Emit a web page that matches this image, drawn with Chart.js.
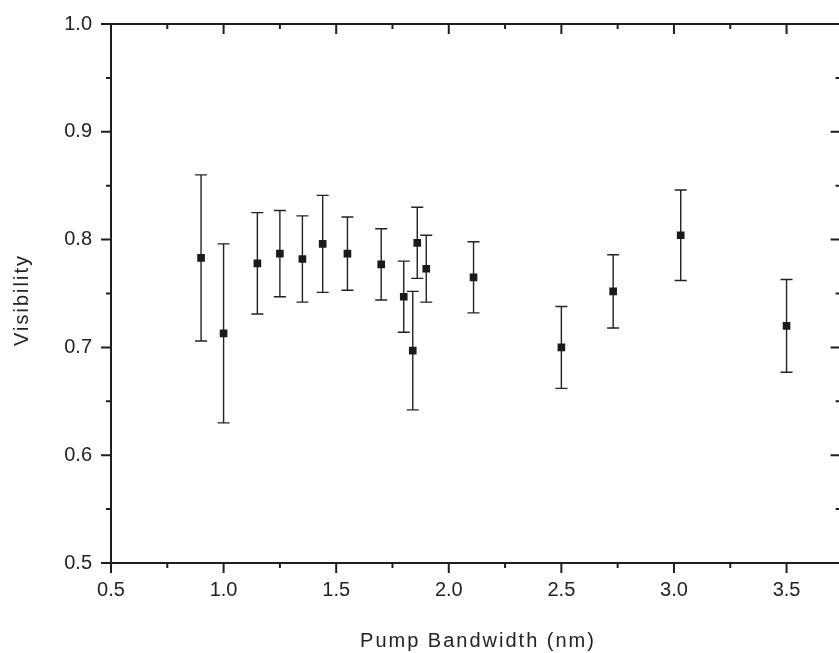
<!DOCTYPE html>
<html>
<head>
<meta charset="utf-8">
<script src="https://cdn.jsdelivr.net/npm/chart.js@4"></script>
<style>
  html, body { margin: 0; padding: 0; background: #fff; overflow: hidden; }
  #wrap { width: 839px; height: 653px; overflow: hidden; }
</style>
</head>
<body>
<div id="wrap"><canvas id="visChart" width="846" height="653"></canvas></div>
<script>
// Pump bandwidth (nm) for each measurement
const bandwidth = [0.90, 1.00, 1.15, 1.25, 1.35, 1.44, 1.55, 1.70, 1.80, 1.84, 1.86, 1.90, 2.11, 2.50, 2.73, 3.03, 3.50];
// Measured visibility
const visibility = [0.783, 0.713, 0.778, 0.787, 0.782, 0.796, 0.787, 0.777, 0.747, 0.697, 0.797, 0.773, 0.765, 0.700, 0.752, 0.804, 0.720];
// Error bar half-heights
const visError = [0.077, 0.083, 0.047, 0.040, 0.040, 0.045, 0.034, 0.033, 0.033, 0.055, 0.033, 0.031, 0.033, 0.038, 0.034, 0.042, 0.043];

// Axis ticks
const xTicks = [0.5, 1.0, 1.5, 2.0, 2.5, 3.0, 3.5];
const xMinorTicks = [0.75, 1.25, 1.75, 2.25, 2.75, 3.25];
const yTicks = [0.5, 0.6, 0.7, 0.8, 0.9, 1.0];
const yMinorTicks = [0.55, 0.65, 0.75, 0.85, 0.95];

const ink = "#1e1e1e";
const labelFont = '"Liberation Sans", Arial, sans-serif';

// Error bars under the points
const errorBars = {
    id: "errorBars",
    beforeDatasetsDraw(chart) {
        const ctx = chart.ctx;
        const x = chart.scales.x, y = chart.scales.y;
        ctx.save();
        ctx.strokeStyle = "#222";
        ctx.lineWidth = 1.4;
        bandwidth.forEach((b, i) => {
            const px = x.getPixelForValue(b);
            const top = y.getPixelForValue(visibility[i] + visError[i]);
            const bot = y.getPixelForValue(visibility[i] - visError[i]);
            ctx.beginPath();
            ctx.moveTo(px, top); ctx.lineTo(px, bot);
            ctx.moveTo(px - 6, top); ctx.lineTo(px + 6, top);
            ctx.moveTo(px - 6, bot); ctx.lineTo(px + 6, bot);
            ctx.stroke();
        });
        ctx.restore();
    }
};

// Box frame, tick marks and axis titles
const frame = {
    id: "frame",
    afterDraw(chart) {
        const ctx = chart.ctx;
        const a = chart.chartArea;
        const x = chart.scales.x, y = chart.scales.y;
        ctx.save();
        ctx.strokeStyle = ink;
        ctx.lineWidth = 2;
        ctx.strokeRect(a.left, a.top, a.right - a.left, a.bottom - a.top);

        ctx.beginPath();
        const tick = (vals, len) => {
            vals.forEach(v => {
                const px = x.getPixelForValue(v);
                ctx.moveTo(px, a.bottom); ctx.lineTo(px, a.bottom + len);
                ctx.moveTo(px, a.top); ctx.lineTo(px, a.top + len);
            });
        };
        const ytick = (vals, len) => {
            vals.forEach(v => {
                const py = y.getPixelForValue(v);
                ctx.moveTo(a.left, py); ctx.lineTo(a.left - len, py);
                ctx.moveTo(a.right, py); ctx.lineTo(a.right - len, py);
            });
        };
        tick(xTicks, 10);
        tick(xMinorTicks, 5);
        ytick(yTicks, 10);
        ytick(yMinorTicks, 5);
        ctx.stroke();

        // axis titles
        ctx.fillStyle = "#222";
        ctx.font = "20px " + labelFont;
        ctx.letterSpacing = "2px";
        ctx.textAlign = "center";
        ctx.textBaseline = "alphabetic";
        ctx.fillText("Pump Bandwidth (nm)", 478, 647);
        ctx.translate(28, 300);
        ctx.rotate(-Math.PI / 2);
        ctx.fillText("Visibility", 0, 0);
        ctx.restore();
    }
};

const visConfig = {
    type: "scatter",
    data: {
        datasets: [{
            label: "Visibility",
            data: bandwidth.map((b, i) => ({ x: b, y: visibility[i] })),
            pointStyle: "rect",
            pointRadius: 5.4,
            pointBackgroundColor: "#1a1a1a",
            pointBorderWidth: 0
        }]
    },
    options: {
        responsive: false,
        animation: false,
        layout: { padding: { top: 24, right: 1, left: 0, bottom: 0 } },
        plugins: {
            legend: { display: false },
            tooltip: { enabled: false }
        },
        scales: {
            x: {
                type: "linear",
                min: 0.5,
                max: 3.74,
                grid: { display: false },
                border: { display: false },
                afterBuildTicks: s => { s.ticks = xTicks.map(v => ({ value: v })); },
                afterFit: s => { s.height = 90; },
                ticks: {
                    padding: 7,
                    color: "#222",
                    font: { family: labelFont, size: 20 },
                    maxRotation: 0,
                    callback: v => v.toFixed(1)
                }
            },
            y: {
                min: 0.5,
                max: 1.0,
                grid: { display: false },
                border: { display: false },
                afterBuildTicks: s => { s.ticks = yTicks.map(v => ({ value: v })); },
                afterFit: s => { s.width = 111; },
                ticks: {
                    padding: 11,
                    color: "#222",
                    font: { family: labelFont, size: 20 },
                    callback: v => v.toFixed(1)
                }
            }
        }
    },
    plugins: [errorBars, frame]
};

const visChart = new Chart(document.getElementById("visChart"), visConfig);
</script>
</body>
</html>
